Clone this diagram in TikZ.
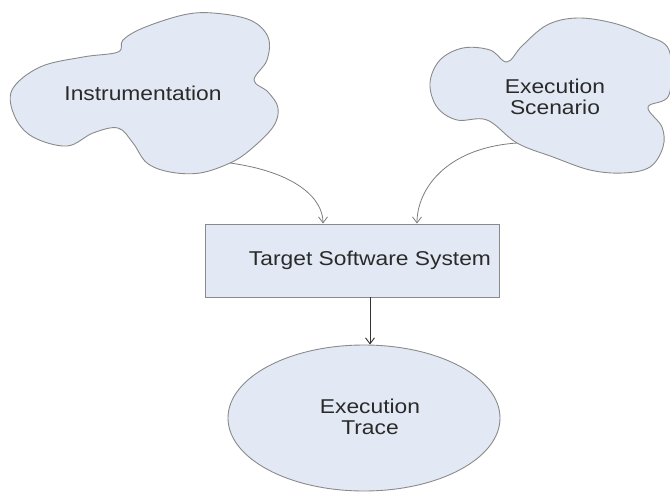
\documentclass[tikz,border=0pt]{standalone}
\usepackage{fontspec}
\setmainfont{Liberation Sans}[FakeStretch=1.14]
\usetikzlibrary{arrows.meta,shapes.geometric}
\definecolor{shapefill}{HTML}{E3E9F4}
\definecolor{shapeline}{HTML}{8A8A8A}
\definecolor{txt}{HTML}{2A2A2A}
\begin{document}
\begin{tikzpicture}[x=1pt,y=-1pt,
  shapestyle/.style={draw=shapeline,fill=shapefill,line width=0.9pt},
  lbl/.style={text=txt,font=\fontsize{20}{21}\selectfont,align=center},
  conn/.style={draw=shapeline!90!black,line width=0.8pt,-{Straight Barb[length=6pt,width=9pt]}}]
\useasboundingbox (0,0) rectangle (670,491);
% Instrumentation cloud
\draw[shapestyle] plot[smooth cycle,tension=0.6] coordinates {
 (12,90) (40,67) (83,57) (118,52) (123,40) (143,28) (183,15) (213,13)
 (250,20) (268,37) (267,60) (254,80) (268,92) (278,108) (273,127) (250,150)
 (230,163) (200,173) (170,172) (147,163) (133,143) (118,128) (93,133)
 (67,146) (33,137) (15,117)};
\node[lbl] (instr) at (143,93) {Instrumentation};
\coordinate (instrout) at (230,163);
% Execution Scenario cloud
\draw[shapestyle] plot[smooth cycle,tension=0.6] coordinates {
 (430,83) (440,60) (463,48) (490,50) (507,62) (522,46) (547,25) (577,18)
 (613,23) (645,35) (669,50) (669,95) (648,107) (662,127) (663,147)
 (650,167) (623,173) (590,170) (553,157) (517,143) (487,120) (457,120)
 (437,107)};
\node[lbl] (scen) at (555,97) {Execution\\Scenario};
\coordinate (scenout) at (517,143);
% Target Software System
\node[shapestyle,lbl,minimum width=294pt,minimum height=73pt,inner sep=0pt]
  (tss) at (352,260.5) {};
\node[lbl] (tsslbl) at (370,260) {Target Software System};
% Execution Trace
\node[shapestyle,ellipse,minimum width=272pt,minimum height=146pt,inner sep=0pt]
  (trace) at (364,418) {};
\node[lbl] (tracelbl) at (370,417) {Execution\\Trace};
% connectors
\coordinate (in1) at (tss.north -| 323,0);
\coordinate (in2) at (tss.north -| 417,0);
\draw[conn] (instrout) .. controls (295,172) and (323,198) .. (in1);
\draw[conn] (scenout) .. controls (445,148) and (417,190) .. (in2);
\draw[draw=black!80,line width=0.9pt,-{Straight Barb[length=6pt,width=9pt]}]
  (tss.south -| tsslbl.south) -- (trace.north -| tsslbl.south);
\end{tikzpicture}
\end{document}
